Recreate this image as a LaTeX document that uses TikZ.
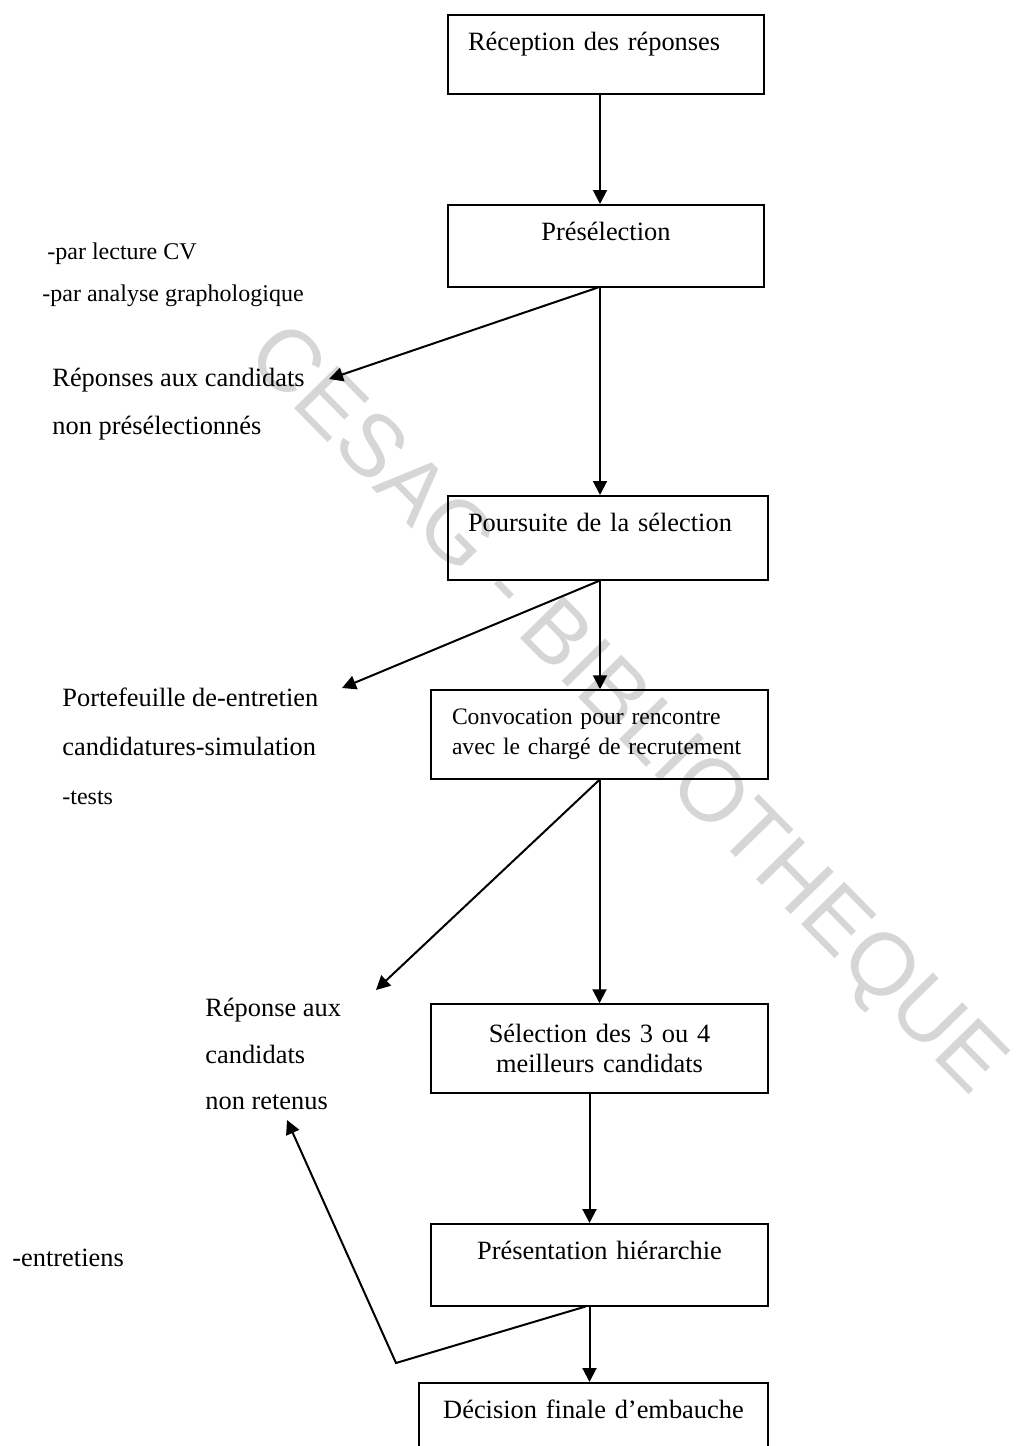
\documentclass[tikz,border=0pt]{standalone}
\usepackage{fontspec}
\setmainfont{Liberation Serif}
\newfontfamily\wmfont{Liberation Sans}
\usetikzlibrary{arrows.meta}

\begin{document}
\begin{tikzpicture}[x=0.5pt,y=-0.5pt,
    flowbox/.style={draw,line width=0.75pt,inner ysep=0pt,font=\fontsize{13.2}{15}\selectfont},
    topbox/.style={flowbox,text height=18pt,align=left,anchor=north},
    note/.style={anchor=base west,inner sep=0pt,font=\fontsize{13.2}{15}\selectfont},
    smallnote/.style={note,font=\fontsize{12}{14}\selectfont},
    arr/.style={-{Triangle[length=7pt,width=7pt]},line width=1pt},
    wm/.style={font=\wmfont\fontsize{44}{44}\selectfont,text=black!16,rotate=-45.5}]
    \useasboundingbox (0,0) rectangle (1024,1446);
    \clip (0,0) rectangle (1024,1446);
    % Watermark
    \node[wm] (stamp) at (624,712) {CESAG - BIBLIOTHEQUE};
    % Main steps
    \node[topbox,text width=138pt,inner xsep=10pt,text depth=21.5pt] (rec) at (606,14) {Réception des réponses};
    \node[topbox,align=center,text width=138pt,inner xsep=10pt,text depth=23pt] (presel) at (606,204) {Présélection};
    \node[topbox,text width=140pt,inner xsep=10pt,text depth=24pt] (pours) at (608,495) {Poursuite de la sélection};
    \node[flowbox,align=left,text width=147.5pt,inner xsep=10.5pt,minimum height=44.5pt,font=\fontsize{11.8}{15}\selectfont] (conv) at (599.5,734.5) {Convocation pour rencontre\\avec le chargé de recrutement};
    \node[flowbox,align=center,text width=147.5pt,inner xsep=10.5pt,minimum height=44.5pt] (meil) at (599.5,1048.5) {Sélection des 3 ou 4\\meilleurs candidats};
    \node[topbox,align=center,text width=147.5pt,inner xsep=10.5pt,text depth=23pt] (hier) at (599.5,1223) {Présentation hiérarchie};
    \node[topbox,align=center,text width=154.5pt,inner xsep=10pt,text depth=23pt] (decis) at (593.5,1382) {Décision finale d’embauche};
    % Side notes
    \node[smallnote] (cv) at (47,259) {-par lecture CV};
    \node[smallnote] (grapho) at (42,301) {-par analyse graphologique};
    \node[note] (rep1) at (52,386) {Réponses aux candidats};
    \node[note] (rep2) at (52,434) {non présélectionnés};
    \node[note] (port1) at (62,706) {Portefeuille de-entretien};
    \node[note] (port2) at (62,755) {candidatures-simulation};
    \node[smallnote] (port3) at (62,804) {-tests};
    \node[note] (nr1) at (205,1016) {Réponse aux};
    \node[note] (nr2) at (205,1063) {candidats};
    \node[note] (nr3) at (205,1109) {non retenus};
    \node[note] (entr) at (12,1266) {-entretiens};
    % Main flow
    \draw[arr] ([xshift=-3pt]rec.south) -- ([xshift=-3pt]presel.north);
    \draw[arr] ([xshift=-3pt]presel.south) -- ([xshift=-3pt]presel.south |- pours.north);
    \draw[arr] ([xshift=-4pt]pours.south) -- ([xshift=-4pt]pours.south |- conv.north);
    \draw[arr] (conv.south) -- (conv.south |- meil.north);
    \draw[arr] ([xshift=-5pt]meil.south) -- ([xshift=-5pt]meil.south |- hier.north);
    \draw[arr] ([xshift=-5pt]hier.south) -- ([xshift=-5pt]hier.south |- decis.north);
    % Rejections
    \coordinate (t1) at (329,379);
    \coordinate (t2) at (342,688);
    \coordinate (t3) at (376,990);
    \coordinate (bend) at (396,1363);
    \coordinate (t4) at (287,1120);
    \draw[arr] ([xshift=-4pt]presel.south) -- (t1);
    \draw[arr] ([xshift=-4pt]pours.south) -- (t2);
    \draw[arr] (conv.south) -- (t3);
    \draw[arr] ([xshift=-7pt]hier.south) -- (bend) -- (t4);
\end{tikzpicture}
\end{document}
